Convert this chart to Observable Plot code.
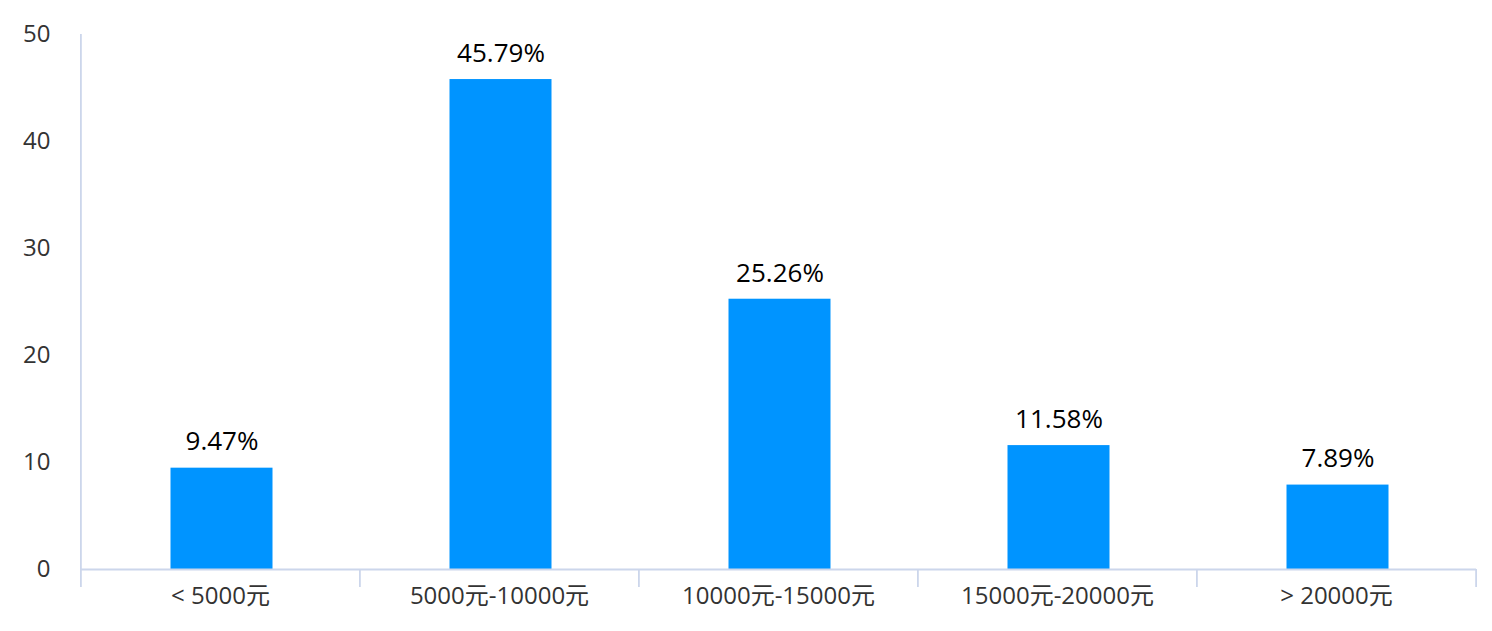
<!DOCTYPE html>
<html><head><meta charset="utf-8">
<script src="https://cdn.jsdelivr.net/npm/d3@7"></script>
<script src="https://cdn.jsdelivr.net/npm/@observablehq/plot@0.6"></script>
<style>
html,body{margin:0;padding:0;background:#fff;}
#chart svg{display:block;}
</style>
</head><body>
<div id="chart"></div>
<script>
const categories = ["< 5000元", "5000元-10000元", "10000元-15000元", "15000元-20000元", "> 20000元"];
const values = [9.47, 45.79, 25.26, 11.58, 7.89];
const valueLabels = ["9.47%", "45.79%", "25.26%", "11.58%", "7.89%"];
const yTicks = [0, 10, 20, 30, 40, 50];

const data = categories.map((c, i) => ({cat: c, value: values[i], label: valueLabels[i]}));

const W = 1492, H = 631;
const mL = 80, mR = 16, mT = 34, mB = 62;
const step = (W - mL - mR) / categories.length;
const axisColor = "#ccd6eb";
const font = "'Open Sans', 'Noto Sans CJK SC', sans-serif";

const chart = Plot.plot({
  width: W,
  height: H,
  marginLeft: mL,
  marginRight: mR,
  marginTop: mT,
  marginBottom: mB,
  style: {fontFamily: font, background: "#fff"},
  x: {domain: categories, paddingInner: 0.635, paddingOuter: 0.3175, label: null},
  y: {domain: [0, 50], label: null},
  marks: [
    Plot.axisY({ticks: yTicks, tickSize: 0, tickPadding: 30, fontSize: 24, color: "#333", label: null}),
    Plot.axisX({tickSize: 0, tickPadding: 17, fontSize: 24, color: "#333", label: null}),
    Plot.barY(data, {x: "cat", y: "value", fill: "#0094ff", dx: 1.5}),
    Plot.ruleY([0], {stroke: axisColor, strokeWidth: 1.8}),
    Plot.ruleX([categories[0]], {dx: -step / 2, y1: 50, y2: 0, insetBottom: -18, stroke: axisColor, strokeWidth: 1.8}),
    Plot.ruleX(categories.slice(1), {dx: -step / 2, y1: 0, y2: 0, insetBottom: -18, stroke: axisColor, strokeWidth: 1.8}),
    Plot.ruleX([categories[categories.length - 1]], {dx: step / 2, y1: 0, y2: 0, insetBottom: -18, stroke: axisColor, strokeWidth: 1.8}),
    Plot.text(data, {x: "cat", y: "value", text: "label", dy: -26, dx: 1.5, fontSize: 26, fill: "#000"})
  ]
});
document.getElementById("chart").appendChild(chart);
</script>
</body></html>
